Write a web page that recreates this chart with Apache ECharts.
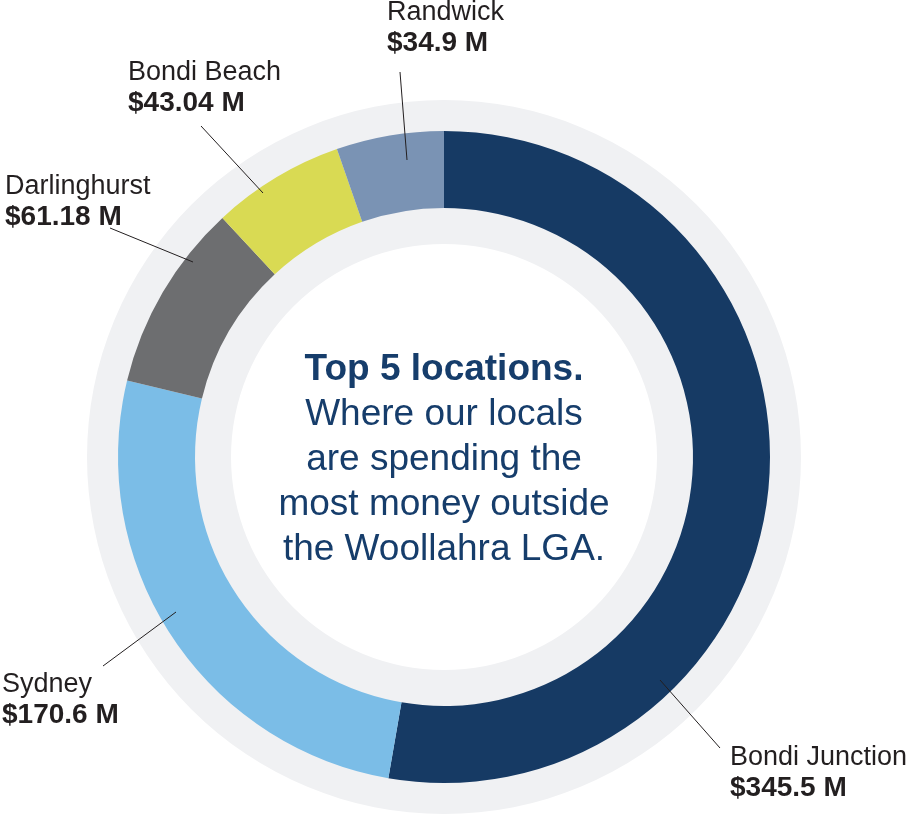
<!DOCTYPE html>
<html>
<head>
<meta charset="utf-8">
<title>Top 5 locations</title>
<script src="https://cdn.jsdelivr.net/npm/echarts@6/dist/echarts.min.js"></script>
<style>
  html, body { margin: 0; padding: 0; background: #fff; }
  #chart { width: 912px; height: 817px; }
</style>
</head>
<body>
<div id="chart"></div>
<script>
// data (millions of dollars)
const locations = ["Bondi Junction", "Sydney", "Darlinghurst", "Bondi Beach", "Randwick"];
const spend = [345.5, 170.6, 61.18, 43.04, 34.9];
const sliceColors = ["#163a64", "#7bbde7", "#6d6e70", "#d9da53", "#7a93b4"];
const centerLines = ["Where our locals", "are spending the", "most money outside", "the Woollahra LGA."];
const centerTitle = "Top 5 locations.";

// layout
const cx = 444, cy = 457;
// label box top-left and leader line (start inside the ring, end near the text)
const labelSpots = [
  { x: 730, y: 743, line: [[660, 680], [720, 748]] },
  { x: 2, y: 670, line: [[176, 612], [103, 666]] },
  { x: 5, y: 172, line: [[193, 262], [110, 228]] },
  { x: 128, y: 58, line: [[263, 193], [201, 126]] },
  { x: 387, y: -2, line: [[407, 160], [400, 72]] }
];

const font = '"Liberation Sans", Arial, sans-serif';

const chart = echarts.init(document.getElementById("chart"));

// leader lines drawn on top of the ring
const leaderLines = labelSpots.map((s) => ({
  type: "line",
  z: 50,
  silent: true,
  shape: { x1: s.line[0][0], y1: s.line[0][1], x2: s.line[1][0], y2: s.line[1][1] },
  style: { stroke: "#231f20", lineWidth: 1 }
}));

const option = {
  animation: false,
  series: [
    {
      // light grey backing ring
      type: "pie",
      silent: true,
      z: 1,
      center: [cx, cy],
      radius: [213, 357],
      label: { show: false },
      labelLine: { show: false },
      itemStyle: { color: "#f0f1f3" },
      data: [{ value: 1, name: "" }]
    },
    {
      type: "pie",
      z: 2,
      center: [cx, cy],
      radius: [249, 326],
      startAngle: 90,
      clockwise: true,
      avoidLabelOverlap: false,
      emphasis: { disabled: true },
      itemStyle: { borderWidth: 0 },
      data: locations.map((name, i) => ({
        name: name,
        value: spend[i],
        itemStyle: { color: sliceColors[i] }
      })),
      label: {
        show: true,
        position: "outside",
        formatter: (p) => "{n|" + p.name + "}\n{v|$" + p.value + " M}",
        rich: {
          n: { fontFamily: font, fontSize: 27, color: "#231f20", lineHeight: 30 },
          v: { fontFamily: font, fontSize: 28, fontWeight: "bold", color: "#231f20", lineHeight: 30 }
        }
      },
      labelLine: { show: false },
      labelLayout: function (params) {
        const s = labelSpots[params.dataIndex];
        return { x: s.x, y: s.y, align: "left", verticalAlign: "top" };
      }
    }
  ],
  graphic: leaderLines.concat([
    {
      type: "text",
      x: cx,
      y: 347,
      z: 10,
      style: {
        text: "{b|" + centerTitle + "}\n" + centerLines.map((l) => "{r|" + l + "}").join("\n"),
        align: "center",
        textAlign: "center",
        verticalAlign: "top",
        textVerticalAlign: "top",
        fill: "#163d6b",
        rich: {
          b: { fontFamily: font, fontSize: 37, fontWeight: "bold", fill: "#163d6b", lineHeight: 45 },
          r: { fontFamily: font, fontSize: 37, fill: "#163d6b", lineHeight: 45 }
        }
      }
    }
  ])
};

chart.setOption(option);
</script>
</body>
</html>
